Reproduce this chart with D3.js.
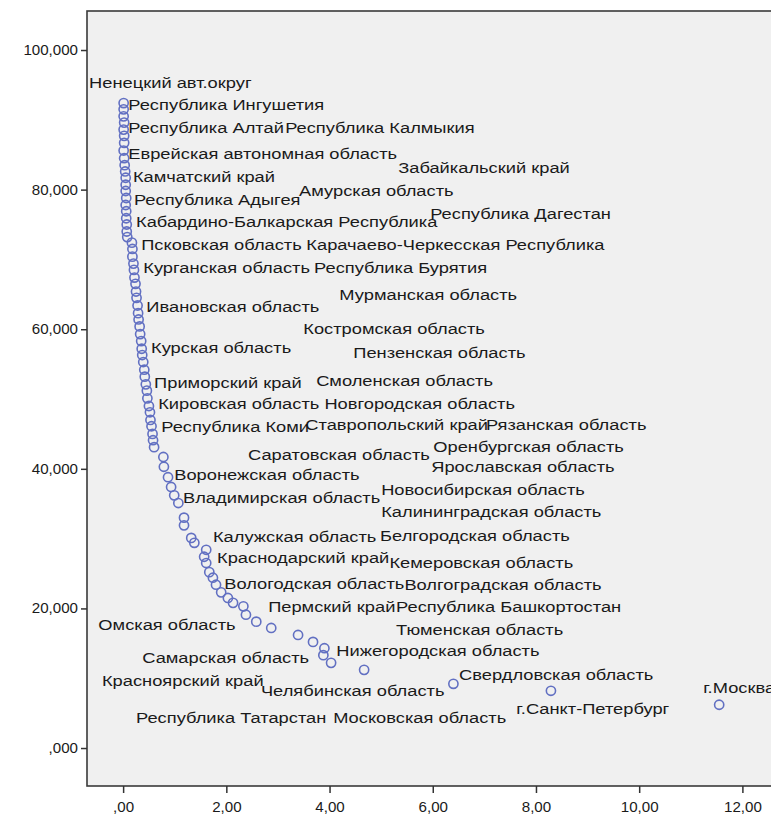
<!DOCTYPE html>
<html>
<head>
<meta charset="utf-8">
<script src="https://cdn.jsdelivr.net/npm/d3@7"></script>
<style>
  body { margin: 0; background: #fff; }
  svg { display: block; }
</style>
</head>
<body>
<svg id="chart"></svg>
<script>
// Share (x) and index (y) for each region
const shareX = [
  0.01, 0.01, 0.01, 0.02, 0.01, 0.02, 0.02, 0.01, 0.02, 0.03,
  0.04, 0.05, 0.05, 0.05, 0.06, 0.05, 0.06, 0.06, 0.07, 0.07, 0.08,
  0.17, 0.18, 0.18, 0.20, 0.21, 0.22, 0.24, 0.25, 0.26, 0.28, 0.29, 0.30, 0.32, 0.33,
  0.35, 0.36, 0.37, 0.39, 0.41, 0.42, 0.44, 0.46, 0.47, 0.50, 0.52, 0.53, 0.55, 0.57, 0.58,
  0.60, 0.78, 0.79, 0.87, 0.93, 0.99, 1.07, 1.18, 1.18, 1.32, 1.38, 1.61, 1.57, 1.61,
  1.67, 1.74, 1.80, 1.90, 2.03, 2.13, 2.33, 2.38, 2.58, 2.87, 3.39, 3.68, 3.90, 3.88,
  4.03, 4.67, 6.40, 8.29, 11.55
];
const indexY = [
  92.4, 91.5, 90.5, 89.6, 88.6, 87.7, 86.7, 85.6, 84.5, 83.5,
  82.6, 81.7, 80.7, 79.8, 78.8, 77.8, 76.9, 75.9, 75.0, 74.0, 73.2,
  72.4, 71.5, 70.4, 69.4, 68.5, 67.4, 66.5, 65.4, 64.5, 63.4, 62.3, 61.4, 60.4, 59.3,
  58.3, 57.2, 56.3, 55.3, 54.2, 53.2, 52.1, 51.2, 50.1, 49.0, 48.1, 47.0, 46.1, 45.0, 44.1,
  43.1, 41.7, 40.3, 38.8, 37.4, 36.2, 35.1, 33.0, 31.9, 30.1, 29.4, 28.4, 27.4, 26.5,
  25.2, 24.4, 23.4, 22.3, 21.5, 20.8, 20.3, 19.1, 18.1, 17.2, 16.2, 15.2, 14.3, 13.3,
  12.2, 11.2, 9.2, 8.2, 6.2
];

const xTicks = [0, 2, 4, 6, 8, 10, 12];
const yTicks = [0, 20, 40, 60, 80, 100];

// Point labels as placed by the original chart (left edge, middle), in data units
const labelNames = [
  "Ненецкий авт.округ", "Республика Ингушетия", "Республика Алтай", "Республика Калмыкия",
  "Еврейская автономная область", "Забайкальский край", "Камчатский край", "Амурская область",
  "Республика Адыгея", "Кабардино-Балкарская Республика", "Республика Дагестан",
  "Псковская область", "Карачаево-Черкесская Республика", "Курганская область",
  "Республика Бурятия", "Мурманская область", "Ивановская область", "Костромская область",
  "Курская область", "Пензенская область", "Приморский край", "Смоленская область",
  "Кировская область", "Новгородская область", "Республика Коми", "Ставропольский край",
  "Рязанская область", "Саратовская область", "Оренбургская область", "Ярославская область",
  "Воронежская область", "Владимирская область", "Новосибирская область",
  "Калининградская область", "Калужская область", "Белгородская область",
  "Краснодарский край", "Кемеровская область", "Вологодская область", "Волгоградская область",
  "Пермский край", "Республика Башкортостан", "Омская область", "Тюменская область",
  "Нижегородская область", "Самарская область", "Свердловская область", "Красноярский край",
  "Челябинская область", "г.Москва", "г.Санкт-Петербург", "Республика Татарстан",
  "Московская область"
];
const labelX = [
  -0.66, 0.10, 0.10, 3.14, 0.10, 5.33, 0.19, 3.41, 0.21, 0.25, 5.95,
  0.35, 3.55, 0.39, 3.70, 4.19, 0.45, 3.49, 0.54, 4.46, 0.60, 3.74,
  0.68, 3.90, 0.74, 3.53, 7.03, 2.42, 6.01, 5.97, 0.99, 1.16, 5.00,
  5.00, 1.74, 4.98, 1.82, 5.16, 1.96, 5.45, 2.81, 5.29, -0.48, 5.29,
  4.13, 0.37, 6.51, -0.41, 2.67, 11.24, 7.62, 0.25, 4.07
];
const labelY = [
  95.3, 92.1, 88.8, 88.8, 85.2, 83.1, 81.8, 79.9, 78.5, 75.4, 76.6,
  72.1, 72.1, 68.8, 68.8, 64.9, 63.2, 60.0, 57.3, 56.6, 52.3, 52.6,
  49.3, 49.3, 46.0, 46.3, 46.3, 42.0, 43.1, 40.3, 39.1, 35.8, 37.0,
  33.8, 30.2, 30.4, 27.2, 26.5, 23.6, 23.4, 20.2, 20.2, 17.6, 17.0,
  13.9, 12.9, 10.5, 9.7, 8.2, 8.7, 5.6, 4.4, 4.4
];

const width = 771, height = 818;
const stretch = 1.22;     // label glyphs in the original are widened
const tickStretch = 1.08;

const svg = d3.select("#chart")
    .attr("width", width)
    .attr("height", height)
    .style("font-family", "'Liberation Sans', Arial, sans-serif");

const x = d3.scaleLinear().domain([-0.70, 13.0]).range([87, 794]);
const y = d3.scaleLinear().domain([-5.44, 105.59]).range([786, 11]);

// Plot area
svg.append("rect")
    .attr("x", x.range()[0])
    .attr("y", y.range()[1])
    .attr("width", x.range()[1] - x.range()[0])
    .attr("height", y.range()[0] - y.range()[1])
    .attr("fill", "#f0f0f0")
    .attr("stroke", "#3a3a3a")
    .attr("stroke-width", 1.6);

// Russian-style number format: comma decimal, no leading zero
const commaFmt = digits => v => d3.format("." + digits + "f")(v).replace(".", ",").replace(/^0,/, ",");

const yAxis = svg.append("g")
    .attr("transform", `translate(${x.range()[0]},0)`)
    .call(d3.axisLeft(y).tickValues(yTicks).tickSize(6).tickPadding(3).tickFormat(commaFmt(3)));

const xAxis = svg.append("g")
    .attr("transform", `translate(0,${y.range()[0]})`)
    .call(d3.axisBottom(x).tickValues(xTicks).tickSize(7).tickPadding(9).tickFormat(commaFmt(2)));

[yAxis, xAxis].forEach(g => {
    g.select(".domain").remove();
    g.selectAll(".tick line").attr("stroke", "#333").attr("stroke-width", 1.5);
    g.selectAll(".tick text")
        .attr("fill", "#1a1a1a")
        .style("font-size", "14px")
        .style("font-family", "'Liberation Sans', Arial, sans-serif");
});
yAxis.selectAll(".tick text").attr("transform", `scale(${tickStretch},1)`).attr("x", -9 / tickStretch);
xAxis.selectAll(".tick text").attr("transform", `scale(${tickStretch},1)`);

// Points
svg.append("g")
    .selectAll("circle")
    .data(shareX.map((v, i) => [v, indexY[i]]))
    .join("circle")
    .attr("cx", d => x(d[0]))
    .attr("cy", d => y(d[1]))
    .attr("r", 4.6)
    .attr("fill", "none")
    .attr("stroke", "#6270c2")
    .attr("stroke-width", 1.6);

// Labels
svg.append("g")
    .selectAll("text")
    .data(labelNames)
    .join("text")
    .attr("transform", (d, i) => `translate(${x(labelX[i])},${y(labelY[i])}) scale(${stretch},1)`)
    .attr("dy", "0.35em")
    .attr("fill", "#1a1a1a")
    .style("font-size", "15px")
    .text(d => d);
</script>
</body>
</html>
